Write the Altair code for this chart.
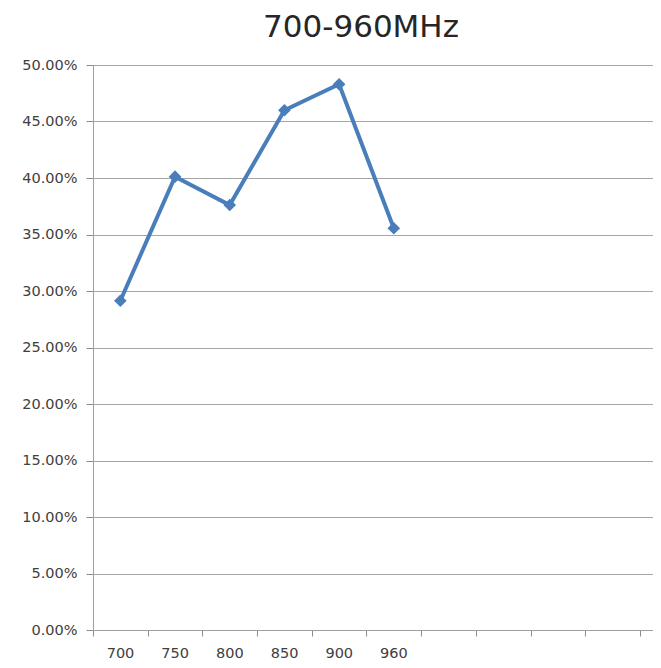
import altair as alt
import pandas as pd

freqs = ["700", "750", "800", "850", "900", "960"]
efficiency = [0.2914, 0.4012, 0.3761, 0.4600, 0.4830, 0.3555]
y_ticks = [0, 0.05, 0.10, 0.15, 0.20, 0.25, 0.30, 0.35, 0.40, 0.45, 0.50]
n_slots = 11

df = pd.DataFrame({"freq": freqs, "eff": efficiency})

label_expr = "datum.value < %d ? [%s][datum.value] : ''" % (
    len(freqs), ",".join("'%s'" % f for f in freqs))

base = alt.Chart(df).transform_window(
    idx="row_number()"
).transform_calculate(
    pos="datum.idx - 0.5"
)

line = base.mark_line(
    color="#4a7ebb", strokeWidth=4,
    point=alt.OverlayMarkDef(shape="diamond", size=160, filled=True, color="#4a7ebb"),
).encode(
    x=alt.X("pos:Q", scale=alt.Scale(domain=[0, 10.24], nice=False, zero=True),
            axis=alt.Axis(values=list(range(n_slots)), labelExpr=label_expr, title=None,
                          grid=False, tickSize=6, tickColor="#8c8c8c", domainColor="#a0a0a0",
                          labelOffset=27, labelFlush=False, labelOverlap=False,
                          labelFont="DejaVu Sans", labelFontSize=14.5, labelColor="#404040",
                          labelPadding=10)),
    y=alt.Y("eff:Q", scale=alt.Scale(domain=[0, 0.5], nice=False),
            axis=alt.Axis(values=y_ticks, format=".2%", title=None, grid=True,
                          gridColor="#a6a6a6", gridWidth=1, tickSize=7, tickColor="#8c8c8c",
                          domainColor="#a0a0a0", labelFont="DejaVu Sans", labelFontSize=14.5,
                          labelColor="#404040", labelPadding=9)),
)

chart = line.properties(
    width=560, height=565,
    title=alt.TitleParams("700-960MHz", fontSize=31, font="DejaVu Sans", fontWeight="normal",
                          color="#262626", anchor="middle", offset=13, dx=-12),
    autosize=alt.AutoSizeParams(type="none"),
    padding={"left": 85, "top": 57, "right": 0, "bottom": 30},
).configure_view(stroke=None).configure(background="white")

chart.save("out.html", embed_options={"renderer": "svg", "actions": False})
